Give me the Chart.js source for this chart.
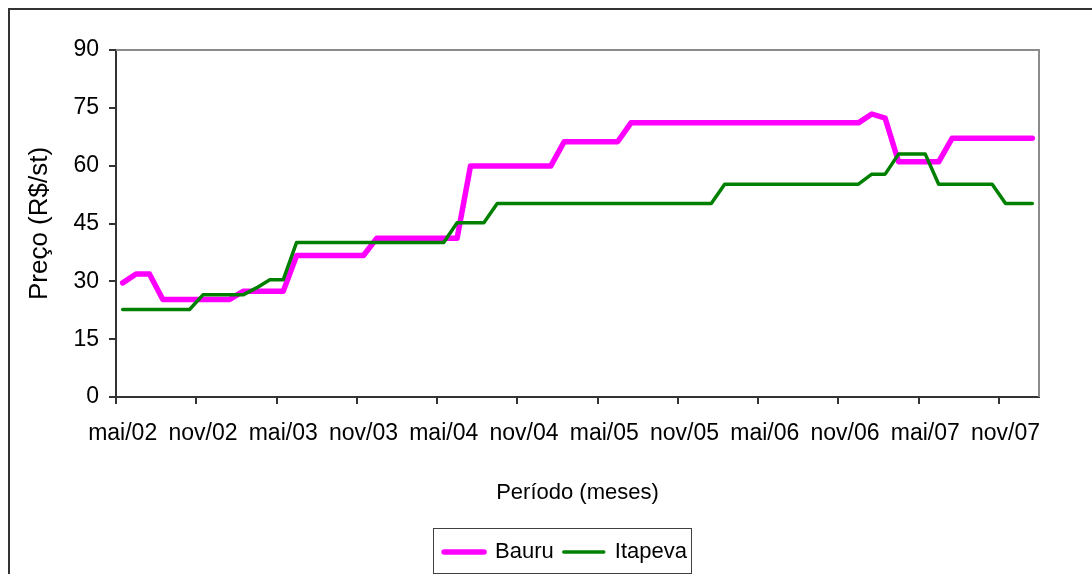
<!DOCTYPE html>
<html>
<head>
<meta charset="utf-8">
<script src="https://cdn.jsdelivr.net/npm/chart.js@4/dist/chart.umd.min.js"></script>
<style>
  html, body { margin: 0; padding: 0; background: #fff; }
  #wrap { width: 1092px; height: 574px; }
</style>
</head>
<body>
<div id="wrap"><canvas id="precoChart" width="1092" height="574"></canvas></div>
<script>
// Meses (mai/02 a jan/08)
const meses = [
  'mai/02', 'jun/02', 'jul/02', 'ago/02', 'set/02', 'out/02', 'nov/02', 'dez/02',
  'jan/03', 'fev/03', 'mar/03', 'abr/03', 'mai/03', 'jun/03', 'jul/03', 'ago/03', 'set/03', 'out/03', 'nov/03', 'dez/03',
  'jan/04', 'fev/04', 'mar/04', 'abr/04', 'mai/04', 'jun/04', 'jul/04', 'ago/04', 'set/04', 'out/04', 'nov/04', 'dez/04',
  'jan/05', 'fev/05', 'mar/05', 'abr/05', 'mai/05', 'jun/05', 'jul/05', 'ago/05', 'set/05', 'out/05', 'nov/05', 'dez/05',
  'jan/06', 'fev/06', 'mar/06', 'abr/06', 'mai/06', 'jun/06', 'jul/06', 'ago/06', 'set/06', 'out/06', 'nov/06', 'dez/06',
  'jan/07', 'fev/07', 'mar/07', 'abr/07', 'mai/07', 'jun/07', 'jul/07', 'ago/07', 'set/07', 'out/07', 'nov/07', 'dez/07',
  'jan/08'
];

// Preço (R$/st)
const bauru = [
  29.6, 31.9, 31.9, 25.3, 25.3, 25.3, 25.3, 25.3,
  25.3, 27.4, 27.4, 27.4, 27.4, 36.7, 36.7, 36.7, 36.7, 36.7, 36.7, 41.2,
  41.2, 41.2, 41.2, 41.2, 41.2, 41.2, 59.9, 59.9, 59.9, 59.9, 59.9, 59.9,
  59.9, 66.2, 66.2, 66.2, 66.2, 66.2, 71.1, 71.1, 71.1, 71.1, 71.1, 71.1,
  71.1, 71.1, 71.1, 71.1, 71.1, 71.1, 71.1, 71.1, 71.1, 71.1, 71.1, 71.1,
  73.4, 72.3, 61.0, 61.0, 61.0, 61.0, 67.1, 67.1, 67.1, 67.1, 67.1, 67.1,
  67.1
];
const itapeva = [
  22.7, 22.7, 22.7, 22.7, 22.7, 22.7, 26.5, 26.5,
  26.5, 26.5, 28.3, 30.4, 30.4, 40.1, 40.1, 40.1, 40.1, 40.1, 40.1, 40.1,
  40.1, 40.1, 40.1, 40.1, 40.1, 45.2, 45.2, 45.2, 50.2, 50.2, 50.2, 50.2,
  50.2, 50.2, 50.2, 50.2, 50.2, 50.2, 50.2, 50.2, 50.2, 50.2, 50.2, 50.2,
  50.2, 55.2, 55.2, 55.2, 55.2, 55.2, 55.2, 55.2, 55.2, 55.2, 55.2, 55.2,
  57.8, 57.8, 63.0, 63.0, 63.0, 55.2, 55.2, 55.2, 55.2, 55.2, 50.2, 50.2,
  50.2
];

const LEGEND_SHIFT = 46;

Chart.defaults.font.family = '"Liberation Sans", Arial, sans-serif';
Chart.defaults.font.size = 23;
Chart.defaults.color = '#000';

// moldura externa, borda da area do grafico e caixa da legenda
const molduras = {
  id: 'molduras',
  beforeDraw(chart) {
    const ctx = chart.ctx;
    ctx.save();
    ctx.fillStyle = '#fff';
    ctx.fillRect(0, 0, chart.width, chart.height);
    ctx.strokeStyle = '#333';
    ctx.lineWidth = 2;
    ctx.strokeRect(9, 9, chart.width + 20, chart.height + 20);
    ctx.restore();
  },
  afterLayout(chart) {
    chart.legend.left += LEGEND_SHIFT;
    chart.legend.right += LEGEND_SHIFT;
  },
  beforeDatasetsDraw(chart) {
    const a = chart.chartArea;
    const ctx = chart.ctx;
    ctx.save();
    ctx.strokeStyle = '#8c8c8c';
    ctx.lineWidth = 2;
    ctx.beginPath();
    ctx.moveTo(a.left, a.top);
    ctx.lineTo(a.right, a.top);
    ctx.lineTo(a.right, a.bottom);
    ctx.stroke();
    ctx.restore();
  },
  afterDraw(chart) {
    const hb = chart.legend.legendHitBoxes;
    if (!hb || !hb.length) return;
    const first = hb[0], last = hb[hb.length - 1];
    const x0 = Math.round(first.left - 11) + 0.5;
    const x1 = Math.round(last.left + last.width + 4) + 0.5;
    const y0 = Math.round(first.top - 13) + 0.5;
    const y1 = Math.round(first.top + first.height + 10) + 0.5;
    const ctx = chart.ctx;
    ctx.save();
    ctx.strokeStyle = '#404040';
    ctx.lineWidth = 1;
    ctx.strokeRect(x0, y0, x1 - x0, y1 - y0);
    ctx.restore();
  }
};

const ctx = document.getElementById('precoChart').getContext('2d');
const chart = new Chart(ctx, {
  type: 'line',
  data: {
    labels: meses,
    datasets: [{
      label: 'Bauru',
      data: bauru,
      borderColor: '#ff00ff',
      backgroundColor: '#ff00ff',
      borderWidth: 5.5,
      borderJoinStyle: 'round',
      borderCapStyle: 'round',
      pointRadius: 0,
      tension: 0,
      order: 1
    }, {
      label: 'Itapeva',
      data: itapeva,
      borderColor: '#008000',
      backgroundColor: '#008000',
      borderWidth: 3.5,
      borderJoinStyle: 'round',
      borderCapStyle: 'round',
      pointRadius: 0,
      tension: 0,
      order: 0
    }]
  },
  options: {
    responsive: false,
    animation: false,
    devicePixelRatio: 1,
    layout: { padding: { top: 50, right: 53, bottom: 1, left: 0 } },
    scales: {
      x: {
        type: 'category',
        offset: true,
        afterFit(scale) { scale.height = 134; },
        border: { color: '#333', width: 2 },
        grid: {
          offset: true,
          drawOnChartArea: false,
          tickLength: 7,
          lineWidth: 2,
          tickColor: (c) => (c.index % 6 === 0 ? '#333' : 'rgba(0,0,0,0)')
        },
        ticks: {
          autoSkip: false,
          maxRotation: 0,
          padding: 16,
          color: '#000',
          callback: function (val, index) {
            return index % 6 === 0 ? this.getLabelForValue(val) : '';
          }
        },
        title: {
          display: true,
          text: 'Período (meses)',
          color: '#000',
          font: { size: 22 },
          padding: { top: 0, bottom: 25 }
        }
      },
      y: {
        min: 0,
        max: 90,
        afterFit(scale) { scale.width = 116; },
        border: { color: '#333', width: 2 },
        grid: {
          drawOnChartArea: false,
          tickLength: 7,
          lineWidth: 2,
          color: '#333'
        },
        ticks: {
          stepSize: 15,
          padding: 10,
          color: '#000'
        },
        title: {
          display: true,
          text: 'Preço (R$/st)',
          color: '#000',
          font: { size: 26 },
          padding: { top: 24, bottom: 0 }
        }
      }
    },
    plugins: {
      tooltip: { enabled: false },
      legend: {
        position: 'bottom',
        labels: {
          boxWidth: 40,
          boxHeight: 0,
          padding: 10,
          color: '#000',
          font: { size: 22 },
          sort: (a, b) => a.datasetIndex - b.datasetIndex
        }
      }
    }
  },
  plugins: [molduras]
});
</script>
</body>
</html>
